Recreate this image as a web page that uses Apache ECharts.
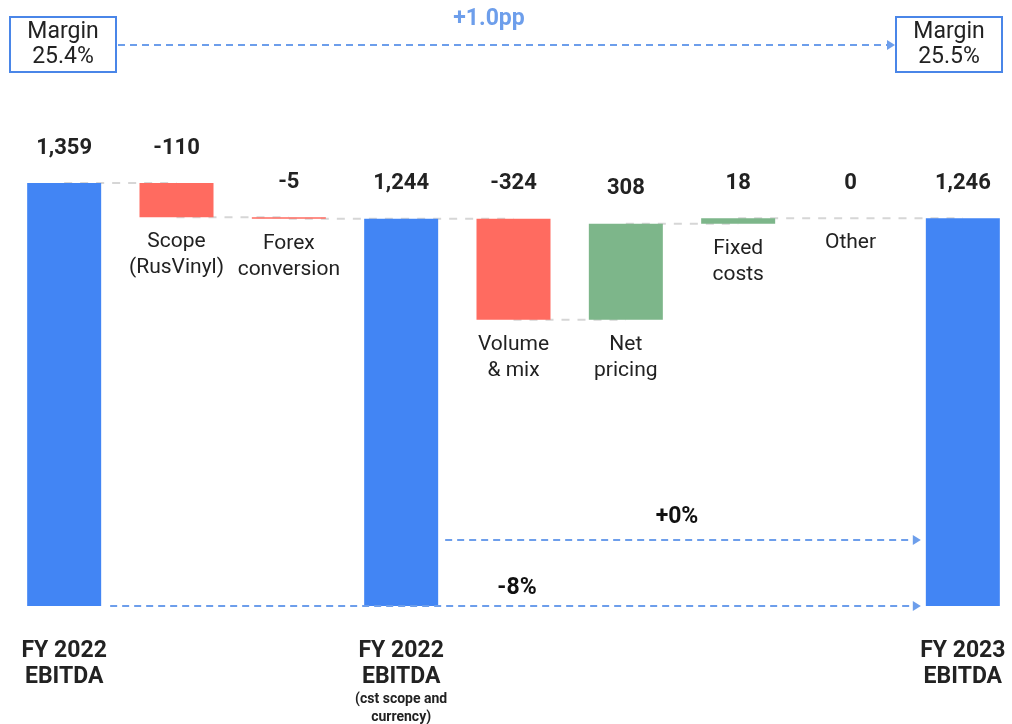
<!DOCTYPE html>
<html>
<head>
<meta charset="utf-8">
<script src="https://cdn.jsdelivr.net/npm/echarts@6/dist/echarts.min.js"></script>
<style>
  html, body { margin: 0; padding: 0; background: #fff; overflow: hidden; }
  #chart { width: 1020px; height: 724px; }
</style>
</head>
<body>
<div id="chart"></div>
<script>
'use strict';

// bridge steps, left to right
var steps = ['FY 2022 EBITDA', 'Scope', 'Forex', 'FY 2022 EBITDA cst', 'Volume', 'Net pricing', 'Fixed costs', 'Other', 'FY 2023 EBITDA'];
var stepValues = [1359, -110, -5, 1244, -324, 308, 18, 0, 1246];
var stepIsTotal = [true, false, false, true, false, false, false, false, true];
var stepLabels = ['', 'Scope\n(RusVinyl)', 'Forex\nconversion', '', 'Volume\n& mix', 'Net\npricing', 'Fixed\ncosts', 'Other', ''];
var axisLabels = ['FY 2022\nEBITDA', '', '', 'FY 2022\nEBITDA', '', '', '', '', 'FY 2023\nEBITDA'];
var axisSubLabels = ['', '', '', '(cst scope and\ncurrency)', '', '', '', '', ''];
var marginStart = 'Margin\n25.4%';
var marginEnd = 'Margin\n25.5%';
var marginDelta = '+1.0pp';
var growthTotal = '-8%';
var growthCst = '+0%';

var BLUE = '#4285f4';
var RED = '#ff6b60';
var GREEN = '#7db68a';
var ARROW = '#6d9eeb';

// running levels -> invisible base + visible step
var bases = [], heights = [], colors = [], levels = [];
var level = 0;
stepValues.forEach(function (v, i) {
    if (stepIsTotal[i]) {
        bases.push(0); heights.push(v); colors.push(BLUE); level = v;
    } else if (v < 0) {
        bases.push(level + v); heights.push(-v); colors.push(RED); level += v;
    } else {
        bases.push(level); heights.push(v); colors.push(GREEN); level += v;
    }
    levels.push(level);
});

// dashed connectors between neighbouring steps
var connectors = [];
for (var i = 0; i < steps.length - 1; i++) {
    connectors.push([i, levels[i]], [i + 1, levels[i]], [null, null]);
}

function fmt(v) {
    return (v < 0 ? '-' : '') + Math.abs(v).toLocaleString('en-US');
}

var chart = echarts.init(document.getElementById('chart'));

var option = {
    animation: false,
    textStyle: { fontFamily: 'Roboto' },
    grid: { left: 8, width: 1011, top: 108, height: 498 },
    xAxis: {
        type: 'category',
        data: steps,
        axisLine: { show: false },
        axisTick: { show: false },
        axisLabel: {
            interval: 0,
            margin: 32,
            formatter: function (val, idx) {
                if (!axisLabels[idx]) return '';
                var s = '{main|' + axisLabels[idx].split('\n').join('}\n{main|') + '}';
                if (axisSubLabels[idx]) {
                    s += '\n{sub|' + axisSubLabels[idx].split('\n').join('}\n{sub|') + '}';
                }
                return s;
            },
            rich: {
                main: { fontFamily: 'Roboto', fontWeight: 'bold', fontSize: 23, lineHeight: 26, color: '#222' },
                sub: { fontFamily: 'Roboto', fontWeight: 'bold', fontSize: 14, lineHeight: 18, color: '#222' }
            }
        }
    },
    yAxis: {
        type: 'value',
        min: 0,
        max: 1600,
        show: false,
        splitLine: { show: false }
    },
    series: [
        {
            type: 'line',
            data: connectors,
            z: 1,
            symbol: 'none',
            connectNulls: false,
            lineStyle: { color: '#d6d6d6', width: 2, type: [8, 8] },
            silent: true
        },
        {
            type: 'bar',
            stack: 'wf',
            barWidth: 74,
            z: 2,
            data: bases,
            itemStyle: { color: 'transparent' },
            label: {
                show: true,
                position: 'insideTop',
                distance: 12,
                fontFamily: 'Roboto',
                fontSize: 21,
                lineHeight: 26,
                color: '#222',
                formatter: function (p) { return stepLabels[p.dataIndex]; }
            }
        },
        {
            type: 'bar',
            stack: 'wf',
            barWidth: 74,
            z: 2,
            data: heights.map(function (h, i) {
                return { value: h, itemStyle: { color: colors[i] } };
            }),
            label: {
                show: true,
                position: 'top',
                distance: 24,
                fontFamily: 'Roboto',
                fontWeight: 'bold',
                fontSize: 22,
                color: '#222',
                formatter: function (p) { return fmt(stepValues[p.dataIndex]); }
            }
        }
    ]
};

chart.setOption(option);

// annotations: margin boxes and growth arrows
function arrow(x1, x2, y, color) {
    return [
        { type: 'line', z: 5, shape: { x1: x1, y1: y, x2: x2 - 4, y2: y },
          style: { stroke: color, lineWidth: 2, lineDash: [7, 5] } },
        { type: 'polygon', z: 5, shape: { points: [[x2 - 8, y - 5], [x2, y], [x2 - 8, y + 5]] },
          style: { fill: color } }
    ];
}

function marginBox(x, label) {
    return [
        { type: 'rect', z: 5, shape: { x: x, y: 17, width: 106, height: 55 },
          style: { fill: '#fff', stroke: '#4a86e8', lineWidth: 2 } },
        { type: 'text', z: 6, x: x + 53, y: 45,
          style: { text: label, fill: '#222', font: '23px Roboto', align: 'center', verticalAlign: 'middle', lineHeight: 25 } }
    ];
}

var cx = steps.map(function (s, i) { return chart.convertToPixel({ xAxisIndex: 0 }, i); });
var y0 = chart.convertToPixel({ yAxisIndex: 0 }, 0);
var half = 37;

var gfx = []
    .concat(marginBox(10, marginStart))
    .concat(marginBox(896, marginEnd))
    .concat(arrow(118, 895, 45, ARROW))
    .concat(arrow(cx[0] + half + 9, cx[8] - half - 5, y0, ARROW))
    .concat(arrow(cx[3] + half + 7, cx[8] - half - 5, y0 - 66, ARROW));

gfx.push(
    { type: 'text', z: 6, x: 489, y: 19,
      style: { text: marginDelta, fill: ARROW, font: 'bold 23px Roboto', align: 'center', verticalAlign: 'middle' } },
    { type: 'text', z: 6, x: 517, y: y0 - 18,
      style: { text: growthTotal, fill: '#111', font: 'bold 23px Roboto', align: 'center', verticalAlign: 'middle' } },
    { type: 'text', z: 6, x: 677, y: y0 - 89,
      style: { text: growthCst, fill: '#111', font: 'bold 23px Roboto', align: 'center', verticalAlign: 'middle' } }
);

chart.setOption({ graphic: { elements: gfx } });
</script>
</body>
</html>
